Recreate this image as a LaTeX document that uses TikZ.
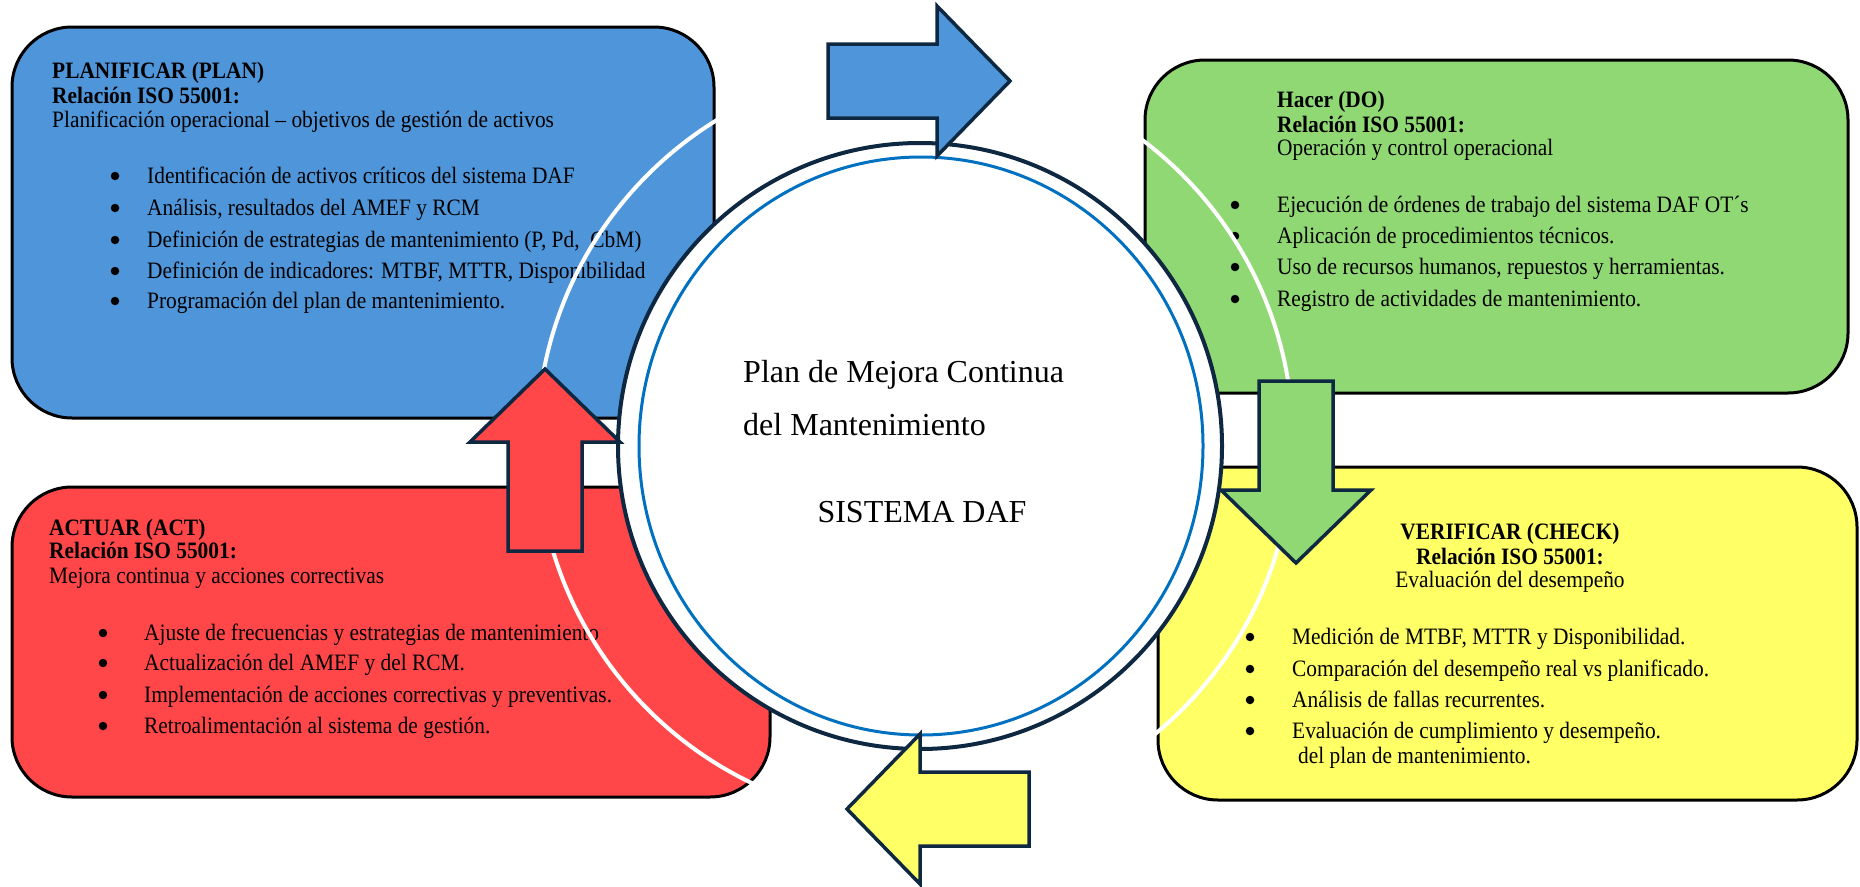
\documentclass[tikz,border=0pt]{standalone}
\usepackage{fontspec}
\setmainfont{Liberation Serif}
\newfontfamily\boxfont[FakeStretch=0.91]{Liberation Serif}
\usetikzlibrary{shapes.geometric}
\definecolor{planC}{HTML}{4F95D9}
\definecolor{doC}{HTML}{90D874}
\definecolor{actC}{HTML}{FF474A}
\definecolor{chkC}{HTML}{FFFF66}
\definecolor{navyC}{HTML}{0E2841}
\definecolor{ringC}{HTML}{0070C0}
\newcommand\bulletline[5]{%
  \node[dotsty] (#1d) at (#2,#4-7) {};
  \node[txt] (#1) at (#3,#4) {#5};}
\newcommand\blockarr[5]{%
  \begin{scope}[shift={(#2,#3)}, rotate=#4]
    \draw[blockarrow, fill=#5] (0,-37) -- (109,-37) -- (109,-75) -- (182,0)
      -- (109,75) -- (109,37) -- (0,37) -- cycle;
    \coordinate (#1) at (0,0);
  \end{scope}}
\begin{document}
\begin{tikzpicture}[x=1pt,y=-1pt,
  phase/.style={draw=black, line width=3pt, rounded corners=60pt, inner sep=0pt, outer sep=0pt},
  txt/.style={anchor=base west, inner sep=0pt, font={\boxfont\fontsize{23.5}{26}\selectfont}},
  ttl/.style={anchor=base west, inner sep=0pt, font={\boxfont\bfseries\fontsize{23.5}{26}\selectfont}},
  dotsty/.style={circle, fill=black, inner sep=0pt, minimum size=8.5pt},
  ctr/.style={inner sep=0pt, font={\fontsize{32}{36}\selectfont}},
  blockarrow/.style={draw=navyC, line width=3.5pt, line join=miter},
]
\useasboundingbox[fill=white] (0,0) rectangle (1860,886);

% phase boxes
\node[phase, fill=planC, minimum width=702pt, minimum height=391pt] (plan) at (363,222.5) {};
\node[phase, fill=doC, minimum width=703pt, minimum height=333pt] (do) at (1496.5,226.5) {};
\node[phase, fill=actC, minimum width=758pt, minimum height=310pt] (act) at (391,642) {};
\node[phase, fill=chkC, minimum width=699pt, minimum height=333pt] (check) at (1507.5,633.5) {};

% PLAN text
\node[ttl] (planA) at (52,78) {PLANIFICAR (PLAN)};
\node[ttl] (planB) at (52,103) {Relación ISO 55001:};
\node[txt] (planC) at (52,127) {Planificación operacional – objetivos de gestión de activos};
\bulletline{plan1}{115}{147}{183}{Identificación de activos críticos del sistema DAF}
\bulletline{plan2}{115}{147}{215}{Análisis, resultados del AMEF y RCM}
\bulletline{plan3}{115}{147}{247}{Definición de estrategias de mantenimiento (P, Pd, \ CbM)}
\bulletline{plan4}{115}{147}{278}{Definición de indicadores: MTBF, MTTR, Disponibilidad}
\bulletline{plan5}{115}{147}{308}{Programación del plan de mantenimiento.}

% DO text
\node[ttl] (doA) at (1277,107) {Hacer (DO)};
\node[ttl] (doB) at (1277,132) {Relación ISO 55001:};
\node[txt] (doC) at (1277,155) {Operación y control operacional};
\bulletline{do1}{1235}{1277}{212}{Ejecución de órdenes de trabajo del sistema DAF OT´s}
\bulletline{do2}{1235}{1277}{243}{Aplicación de procedimientos técnicos.}
\bulletline{do3}{1235}{1277}{274}{Uso de recursos humanos, repuestos y herramientas.}
\bulletline{do4}{1235}{1277}{306}{Registro de actividades de mantenimiento.}

% ACT text
\node[ttl] (actA) at (49,535) {ACTUAR (ACT)};
\node[ttl] (actB) at (49,558) {Relación ISO 55001:};
\node[txt] (actC) at (49,583) {Mejora continua y acciones correctivas};
\bulletline{act1}{103}{144}{640}{Ajuste de frecuencias y estrategias de mantenimiento}
\bulletline{act2}{103}{144}{670}{Actualización del AMEF y del RCM.}
\bulletline{act3}{103}{144}{702}{Implementación de acciones correctivas y preventivas.}
\bulletline{act4}{103}{144}{733}{Retroalimentación al sistema de gestión.}

% CHECK text
\node[ttl, anchor=base] (chkA) at (1510,539) {VERIFICAR (CHECK)};
\node[ttl, anchor=base] (chkB) at (1510,564) {Relación ISO 55001:};
\node[txt, anchor=base] (chkC) at (1510,587) {Evaluación del desempeño};
\bulletline{chk1}{1250}{1292}{644}{Medición de MTBF, MTTR y Disponibilidad.}
\bulletline{chk2}{1250}{1292}{676}{Comparación del desempeño real vs planificado.}
\bulletline{chk3}{1250}{1292}{707}{Análisis de fallas recurrentes.}
\bulletline{chk4}{1250}{1292}{738}{Evaluación de cumplimiento y desempeño.}
\node[txt] (chk5) at (1298,763) {del plan de mantenimiento.};

% white loop
\node[circle, draw=white, line width=4pt, minimum size=756pt, inner sep=0pt] (loop) at (915,442) {};

% central disc
\node[ellipse, draw=navyC, fill=white, line width=4pt, minimum width=604pt, minimum height=606pt, inner sep=0pt] (core) at (920,446) {};
\node[ellipse, draw=ringC, line width=3pt, minimum width=564pt, minimum height=578pt, inner sep=0pt] (corering) at (921,446) {};
\node[ctr, anchor=base west] (c1) at (743,382) {Plan de Mejora Continua};
\node[ctr, anchor=base west] (c2) at (743,435) {del Mantenimiento};
\node[ctr, anchor=base] (c3) at (922,522) {SISTEMA DAF};

% block arrows
\blockarr{arrPlan}{828}{81}{0}{planC}
\blockarr{arrDo}{1296}{381}{-90}{doC}
\blockarr{arrCheck}{1029}{809}{180}{chkC}
\blockarr{arrAct}{545}{551}{90}{actC}
\end{tikzpicture}
\end{document}
